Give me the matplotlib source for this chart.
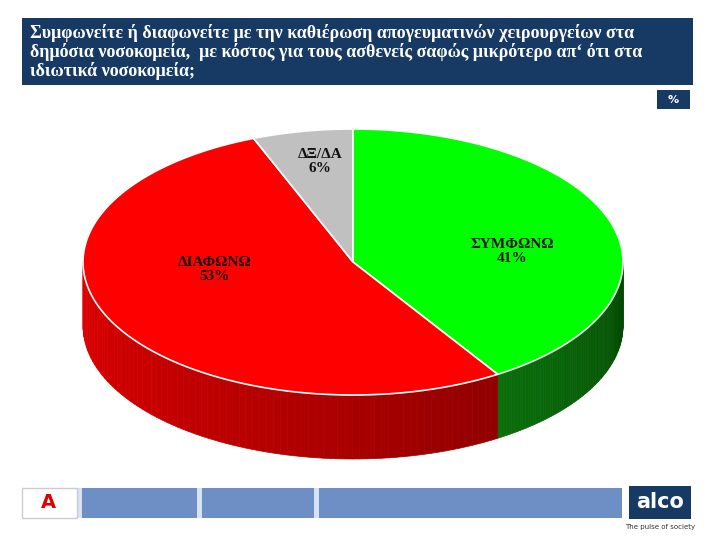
import numpy as np
import matplotlib.pyplot as plt
from matplotlib.patches import Polygon, Rectangle

labels = ['ΣΥΜΦΩΝΩ', 'ΔΙΑΦΩΝΩ', 'ΔΞ/ΔΑ']
values = [41, 53, 6]
top_colors = ['#00ff00', '#ff0000', '#c0c0c0']
side_light = ['#18a818', '#e00000', '#a0a0a0']
side_dark = ['#004000', '#500000', '#606060']
title = ('Συμφωνείτε ή διαφωνείτε με την καθιέρωση απογευματινών χειρουργείων στα\n'
         'δημόσια νοσοκομεία,  με κόστος για τους ασθενείς σαφώς μικρότερο απ‘ ότι στα\n'
         'ιδιωτικά νοσοκομεία;')

fig = plt.figure(figsize=(7.2, 5.39), dpi=100)
ax = fig.add_axes([0, 0, 1, 1])
ax.set_xlim(0, 720)
ax.set_ylim(539, 0)
ax.axis('off')

cx, cy, rx, ry, depth = 353, 262, 270, 133, 64

def pt(th):
    return cx + rx * np.sin(th), cy - ry * np.cos(th)

bounds = np.radians(np.concatenate([[0], np.cumsum(values)]) / sum(values) * 360)

def mix(c1, c2, t):
    a = np.array(plt.matplotlib.colors.to_rgb(c1))
    b = np.array(plt.matplotlib.colors.to_rgb(c2))
    return a * (1 - t) + b * t

# side walls (front half only), shaded by angle
for i in range(len(values)):
    a0, a1 = max(bounds[i], np.pi / 2), min(bounds[i + 1], 3 * np.pi / 2)
    if a1 <= a0:
        continue
    ths = np.linspace(a0, a1, 80)
    for j in range(len(ths) - 1):
        x0, y0 = pt(ths[j])
        x1, y1 = pt(ths[j + 1])
        t = (ths[j] - np.pi / 2) / np.pi  # 0 at right, 1 at left
        col = mix(side_dark[i], side_light[i], t ** 0.7)
        ax.add_patch(Polygon([(x0, y0), (x1, y1), (x1, y1 + depth), (x0, y0 + depth)],
                             closed=True, fc=col, ec=col, lw=0.5))

# top face
for i in range(len(values)):
    ths = np.linspace(bounds[i], bounds[i + 1], 200)
    xs, ys = pt(ths)
    verts = [(cx, cy)] + list(zip(xs, ys))
    ax.add_patch(Polygon(verts, closed=True, fc=top_colors[i], ec='white', lw=1.2))

label_pos = [(512, 252), (215, 270), (320, 162)]
for lab, v, (x, y) in zip(labels, values, label_pos):
    ax.text(x, y, f'{lab}\n{v}%', ha='center', va='center', fontsize=11,
            fontweight='bold', family='Liberation Serif', color='#111111', linespacing=1.1)

# title banner
ax.add_patch(Rectangle((22, 18), 671, 67, fc='#173a64', ec='none'))
ax.text(30, 52, title, ha='left', va='center', color='white', fontsize=13,
        fontweight='bold', family='Liberation Serif', linespacing=1.05)
ax.add_patch(Rectangle((657, 90), 33, 19, fc='#173a64', ec='none'))
ax.text(673, 100, '%', ha='center', va='center', color='white', fontsize=8, fontweight='bold')

# footer
ax.add_patch(Rectangle((22, 488), 600, 30, fc='#d8e3f2', ec='none'))
for x0, w in [(82, 115), (202, 112), (319, 303)]:
    ax.add_patch(Rectangle((x0, 488), w, 30, fc='#6d8fc6', ec='none'))
ax.add_patch(Rectangle((22, 488), 55, 30, fc='white', ec='#cccccc'))
ax.text(48, 502, 'Α', ha='center', va='center', color='#e00000', fontsize=14, fontweight='bold')
ax.add_patch(Rectangle((629, 486), 62, 33, fc='#173a64', ec='none'))
ax.text(660, 502, 'alco', ha='center', va='center', color='white', fontsize=15, fontweight='bold')
ax.text(660, 527, 'The pulse of society', ha='center', va='center', color='#333333', fontsize=5)

fig.savefig('out.png', dpi=100)
